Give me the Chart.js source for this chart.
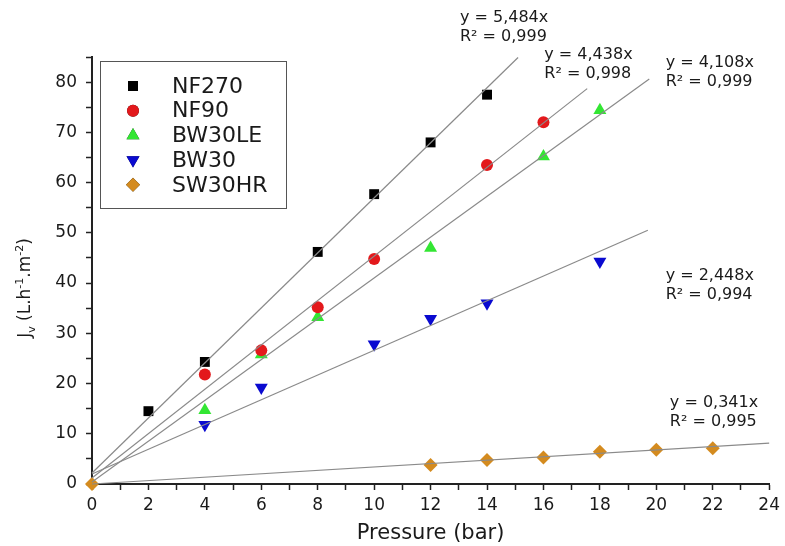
<!DOCTYPE html>
<html>
<head>
<meta charset="utf-8">
<script src="https://cdn.jsdelivr.net/npm/chart.js@4.4.0/dist/chart.umd.min.js"></script>
<style>
  body { margin: 0; background: #fff; }
  #wrap { width: 785px; height: 546px; }
</style>
</head>
<body>
<div id="wrap"><canvas id="flux-chart" width="785" height="546"></canvas></div>
<script>
// membranes
var membranes = ["NF270", "NF90", "BW30LE", "BW30", "SW30HR"];
var colors = ["#000000", "#e3191c", "#33e633", "#0a0ad0", "#d48b1f"];
var markers = ["rect", "circle", "triangle", "triangle", "rectRot"];
var rotations = [0, 0, 0, 180, 0];
var radii = [7, 6, 7.5, 7.5, 7];

// measured points (pressure in bar, Jv in L.h-1.m-2)
var pressureNF270 = [2, 4, 8, 10, 12, 14];
var fluxNF270 = [14.5, 24.3, 46.2, 57.7, 68.0, 77.5];
var pressureNF90 = [4, 6, 8, 10, 14, 16];
var fluxNF90 = [21.8, 26.6, 35.2, 44.8, 63.5, 72.0];
var pressureBW30LE = [4, 6, 8, 12, 16, 18];
var fluxBW30LE = [14.7, 25.8, 33.2, 47.0, 65.2, 74.4];
var pressureBW30 = [4, 6, 10, 12, 14, 18];
var fluxBW30 = [11.8, 19.2, 27.8, 32.9, 36.0, 44.3];
var pressureSW30HR = [0, 12, 14, 16, 18, 20, 22];
var fluxSW30HR = [0, 3.8, 4.8, 5.3, 6.4, 6.8, 7.1];

// fitted lines as drawn (start at x = 0)
var trendStartY = [2.2, 1.2, 0.4, 2.0, 0];
var trendEndX = [15.1, 17.55, 19.75, 19.7, 24];
var trendEndY = [84.9, 78.7, 80.6, 50.5, 8.15];

// equation labels
var eqSlope = ["5,484", "4,438", "4,108", "2,448", "0,341"];
var eqR2 = ["0,999", "0,998", "0,999", "0,994", "0,995"];
var eqX = [13.04, 16.03, 20.33, 20.33, 20.48];
var eqY = [92.7, 85.4, 83.8, 41.4, 16.1];

var xTicks = [0, 24, 1];
var yTicks = [0, 85, 5];

var pressures = [pressureNF270, pressureNF90, pressureBW30LE, pressureBW30, pressureSW30HR];
var fluxes = [fluxNF270, fluxNF90, fluxBW30LE, fluxBW30, fluxSW30HR];

function toPoints(xs, ys) {
    return xs.map(function (x, i) { return { x: x, y: ys[i] }; });
}

var datasets = [];
// trend lines first so markers sit on top
membranes.forEach(function (name, i) {
    datasets.push({
        label: name + " fit",
        data: [{ x: 0, y: trendStartY[i] }, { x: trendEndX[i], y: trendEndY[i] }],
        showLine: true,
        borderColor: "#8a8a8a",
        borderWidth: 1.2,
        pointRadius: 0,
        clip: false
    });
});
membranes.forEach(function (name, i) {
    datasets.push({
        label: name,
        data: toPoints(pressures[i], fluxes[i]),
        showLine: false,
        pointStyle: markers[i],
        rotation: rotations[i],
        pointRadius: radii[i],
        pointHoverRadius: radii[i],
        backgroundColor: colors[i],
        borderColor: colors[i],
        borderWidth: 0,
        clip: false
    });
});

var FONT = "'DejaVu Sans', sans-serif";

// legend box, equations and y title
var extras = {
    id: "extras",
    afterDatasetsDraw: function (chart) {
        var ctx = chart.ctx;
        var xs = chart.scales.x, ys = chart.scales.y;
        var area = chart.chartArea;

        // equations
        ctx.save();
        ctx.fillStyle = "#1a1a1a";
        ctx.font = "16px " + FONT;
        ctx.textBaseline = "middle";
        ctx.textAlign = "left";
        eqSlope.forEach(function (s, i) {
            var px = xs.getPixelForValue(eqX[i]);
            var py = ys.getPixelForValue(eqY[i]);
            ctx.fillText("y = " + s + "x", px, py);
            ctx.fillText("R\u00b2 = " + eqR2[i], px, py + 19);
        });
        ctx.restore();

        // legend
        var bx = area.left + 8, by = area.top + 4, bw = 186, bh = 147;
        ctx.save();
        ctx.strokeStyle = "#555";
        ctx.lineWidth = 1;
        ctx.strokeRect(bx + 0.5, by + 0.5, bw, bh);
        ctx.font = "22px " + FONT;
        ctx.textBaseline = "middle";
        membranes.forEach(function (name, i) {
            var cy = by + 25 + i * 24.7;
            Chart.helpers.drawPoint(ctx, {
                pointStyle: markers[i],
                rotation: rotations[i],
                radius: radii[i],
                borderWidth: 0
            }, bx + 33, cy);
            ctx.fillStyle = colors[i];
            ctx.fill();
            ctx.fillStyle = "#1a1a1a";
            ctx.fillText(name, bx + 72, cy + 1);
        });
        ctx.restore();

        // y axis title with sub/superscripts
        var parts = [
            { t: "J", f: 17, dy: 0 },
            { t: "v", f: 11, dy: 5 },
            { t: " (L.h", f: 17, dy: 0 },
            { t: "-1", f: 11, dy: -7 },
            { t: ".m", f: 17, dy: 0 },
            { t: "-2", f: 11, dy: -7 },
            { t: ")", f: 17, dy: 0 }
        ];
        ctx.save();
        ctx.translate(24, 288);
        ctx.rotate(-Math.PI / 2);
        ctx.fillStyle = "#1a1a1a";
        ctx.textBaseline = "alphabetic";
        var total = 0;
        parts.forEach(function (p) {
            ctx.font = p.f + "px " + FONT;
            p.w = ctx.measureText(p.t).width;
            total += p.w;
        });
        var cx = -total / 2;
        parts.forEach(function (p) {
            ctx.font = p.f + "px " + FONT;
            ctx.fillText(p.t, cx, 6 + p.dy);
            cx += p.w;
        });
        ctx.restore();
    }
};

var ctx = document.getElementById("flux-chart").getContext("2d");
var chart = new Chart(ctx, {
    type: "scatter",
    data: { datasets: datasets },
    plugins: [extras],
    options: {
        responsive: false,
        animation: false,
        layout: { padding: { top: 57, right: 12, left: 0, bottom: 0 } },
        plugins: {
            legend: { display: false },
            tooltip: { enabled: false }
        },
        scales: {
            x: {
                type: "linear",
                min: xTicks[0],
                max: xTicks[1],
                afterFit: function (s) { s.height = 62; },
                border: { color: "#222", width: 2 },
                grid: { drawOnChartArea: false, drawTicks: true, tickLength: 6, tickColor: "#222", tickWidth: 1.5 },
                ticks: {
                    stepSize: xTicks[2],
                    autoSkip: false,
                    maxRotation: 0,
                    padding: 5,
                    color: "#1a1a1a",
                    font: { family: FONT, size: 17 },
                    callback: function (v) { return v % 2 === 0 ? v : ""; }
                },
                title: {
                    display: true,
                    text: "Pressure (bar)",
                    color: "#1a1a1a",
                    font: { family: FONT, size: 21 },
                    padding: { top: 0, bottom: 0 }
                }
            },
            y: {
                type: "linear",
                min: yTicks[0],
                max: yTicks[1],
                afterFit: function (s) { s.width = 92; },
                border: { color: "#222", width: 2 },
                grid: { drawOnChartArea: false, drawTicks: true, tickLength: 6, tickColor: "#222", tickWidth: 1.5 },
                ticks: {
                    stepSize: yTicks[2],
                    autoSkip: false,
                    padding: 9,
                    color: "#1a1a1a",
                    font: { family: FONT, size: 17 },
                    callback: function (v) { return v % 10 === 0 ? v : ""; }
                }
            }
        }
    }
});
</script>
</body>
</html>
